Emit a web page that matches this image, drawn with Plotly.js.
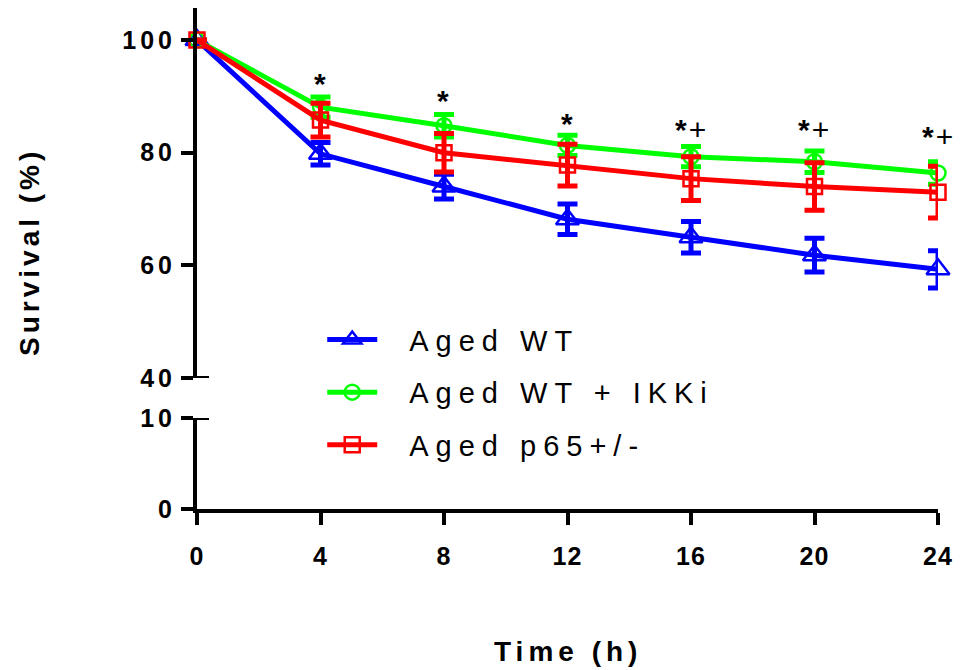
<!DOCTYPE html>
<html><head><meta charset="utf-8">
<script src="https://cdn.plot.ly/plotly-3.0.1.min.js"></script>
<style>
html,body{margin:0;padding:0;background:#fff;}
#chart{width:966px;height:670px;}
.legendtext{letter-spacing:7px;transform:translateX(27px);}
.legend .scrollbox{clip-path:none !important;}
.ytick text,.y2tick text{letter-spacing:4px;}
.xtick text{letter-spacing:1px;}
.annotation-text{letter-spacing:2px;}
.annotation[data-index="6"] .annotation-text{letter-spacing:4px;}
.annotation[data-index="7"] .annotation-text{letter-spacing:5px;}
</style></head><body><div id="chart"></div>
<script>
const timeHours=[0,4,8,12,16,20,24];
const seriesNames=['Aged WT','Aged WT + IKKi','Aged p65+/-'];
const agedWT=[100,79.8,74.0,68.2,65.0,61.8,59.3];
const agedWTErr=[0,2.0,2.2,2.7,2.8,3.0,3.3];
const agedIKKi=[100,88.1,84.8,81.3,79.3,78.4,76.4];
const agedIKKiErr=[0,1.8,2.0,1.8,1.8,1.9,2.0];
const agedP65=[100,85.8,80.0,77.8,75.4,74.0,73.0];
const agedP65Err=[0,3.0,3.4,3.7,3.9,4.2,4.6];
const sigTimes=[4,8,12,16,20,24];
const sigLevels=[93.6,90.6,86.5,85.3,85.4,84.2];
const sigLabels=['*','*','*','*+','*+','*+'];
const upperTicks=[40,60,80,100];
const lowerTicks=[0,10];
const xTicks=[0,4,8,12,16,20,24];

const FONT='Liberation Sans, Arial, sans-serif';

function series(name,y,err,color,symbol,size,group){
  return {type:'scatter',mode:'lines+markers',x:timeHours,y:y,name:name,legendgroup:group,
    cliponaxis:false,
    line:{color:color,width:5},
    marker:{symbol:symbol,size:size,color:color,line:{width:2.5,color:color}},
    error_y:{type:'data',array:err,visible:true,color:color,thickness:5,width:10}};
}
const traces=[
  series(seriesNames[0],agedWT,agedWTErr,'#0000ff','triangle-up-open',20,'g1'),
  series(seriesNames[1],agedIKKi,agedIKKiErr,'#00ff00','circle-open',15,'g2'),
  series(seriesNames[2],agedP65,agedP65Err,'#ff0000','square-open',15,'g3'),
  {type:'scatter',x:[],y:[],xaxis:'x',yaxis:'y2',showlegend:false,hoverinfo:'skip'}
];

const axisStyle={showline:true,linewidth:4,linecolor:'black',ticks:'outside',ticklen:12,tickwidth:4,
  tickcolor:'black',showgrid:false,zeroline:false,
  tickfont:{family:FONT,size:25,color:'black',weight:'bold'}};

const annotations=sigTimes.map((t,i)=>({x:t,y:sigLevels[i],xref:'x',yref:'y',
  text:sigLabels[i].replace('*','<b>*</b>'),
  showarrow:false,yshift:-7,font:{family:FONT,size:30,color:'black'}}));
annotations.push({text:'Survival (%)',xref:'paper',yref:'paper',x:-0.2254,y:0.513,textangle:-90,
  showarrow:false,xanchor:'center',yanchor:'middle',font:{family:FONT,size:28,color:'black',weight:'bold'}});
annotations.push({text:'Time (h)',xref:'paper',yref:'paper',x:0.5,y:-0.2854,
  showarrow:false,xanchor:'center',yanchor:'middle',font:{family:FONT,size:28,color:'black',weight:'bold'}});

const layout={
  width:966,height:670,margin:{l:197,r:28,t:8,b:161},
  paper_bgcolor:'#fff',plot_bgcolor:'#fff',
  font:{family:FONT,color:'black'},
  showlegend:true,
  xaxis:Object.assign({},axisStyle,{domain:[0,1],range:[0,24],anchor:'y2',tickvals:xTicks,ticklabelstandoff:10}),
  yaxis:Object.assign({},axisStyle,{domain:[0.2615,1],range:[40,105.7],anchor:'x',tickvals:upperTicks}),
  yaxis2:Object.assign({},axisStyle,{domain:[0,0.1816],range:[0,10],anchor:'x',tickvals:lowerTicks}),
  shapes:[
    {type:'line',xref:'x',yref:'y',xsizemode:'pixel',xanchor:0,x0:-14,x1:12,y0:40,y1:40,line:{color:'black',width:4}},
    {type:'line',xref:'x',yref:'y2',xsizemode:'pixel',xanchor:0,x0:-14,x1:12,y0:10,y1:10,line:{color:'black',width:4}}
  ],
  legend:{x:0.169,y:0.389,xanchor:'left',yanchor:'top',bgcolor:'rgba(0,0,0,0)',
    font:{family:FONT,size:29,color:'black'},tracegroupgap:12,traceorder:'grouped',itemwidth:50},
  annotations:annotations
};
Plotly.newPlot('chart',traces,layout,{displayModeBar:false,staticPlot:true});
</script></body></html>
